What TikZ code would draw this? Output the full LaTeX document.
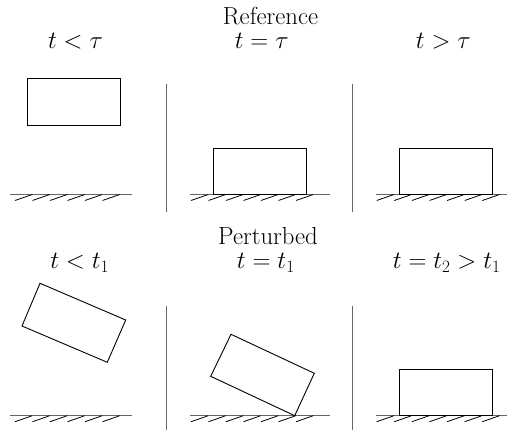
\documentclass[tikz,border=0pt]{standalone}
\begin{document}
\begin{tikzpicture}[x=1pt,y=-1pt,
  block/.style={draw=black,line width=0.9pt},
  ground/.style={draw=black!60,line width=1.1pt},
  hatch/.style={draw=black,line width=0.8pt},
  sep/.style={draw=black!60,line width=1.1pt},
  lbl/.style={anchor=base,inner sep=0pt,font=\fontsize{24.7}{29}\selectfont},
  mlbl/.style={anchor=base,inner sep=0pt,font=\fontsize{26.5}{31}\selectfont}]
\useasboundingbox (0,0) rectangle (507,430);
\clip (0,0) rectangle (507,430);
% titles
\node[lbl] (ref) at (270.5,25) {Reference};
\node[mlbl] (a1) at (75.5,48.5) {$t<\tau$};
\node[mlbl] (a2) at (261.7,48.5) {$t=\tau$};
\node[mlbl] (a3) at (443.3,48.5) {$t>\tau$};
\node[lbl] (per) at (268,245) {Perturbed};
\node[mlbl] (b1) at (79.7,269) {$t<t_1$};
\node[mlbl] (b2) at (265.8,269) {$t=t_1$};
\node[mlbl] (b3) at (446.7,269) {$t=t_2>t_1$};
% separators
\draw[sep] (166.7,84.3) -- (166.7,211.7);
\draw[sep] (352.7,84.3) -- (352.7,211.7);
\draw[sep] (166.7,305.7) -- (166.7,433);
\draw[sep] (352.7,305.7) -- (352.7,433);
% grounds
\foreach \gy in {194.5,415.7}{
  \draw[ground] (10,\gy) -- (131.7,\gy);
  \foreach \i in {0,...,5} \draw[hatch] (15+17.5*\i,\gy+6) -- ++(17.3,-6);
  \draw[ground] (190,\gy) -- (330,\gy);
  \foreach \i in {0,...,6} \draw[hatch] (191+17.5*\i,\gy+6) -- ++(17.3,-6);
  \draw[ground] (376,\gy) -- (507,\gy);
  \foreach \i in {0,...,6} \draw[hatch] (376.7+17.6*\i,\gy+6) -- ++(17.3,-6);
}
% top row blocks
\draw[block] (27,78.3) rectangle (120.3,125);
\draw[block] (213.3,148) rectangle (306.3,194.5);
\draw[block] (399.3,148) rectangle (492.7,194.5);
% bottom row blocks
\draw[block] (40,283.3) -- (125.7,320) -- (107.3,362.3) -- (22,326) -- cycle;
\draw[block] (231,334.3) -- (314.3,373.3) -- (294.7,415.7) -- (210.7,376.3) -- cycle;
\draw[block] (399.3,369.3) rectangle (492.7,415.7);
\end{tikzpicture}
\end{document}
